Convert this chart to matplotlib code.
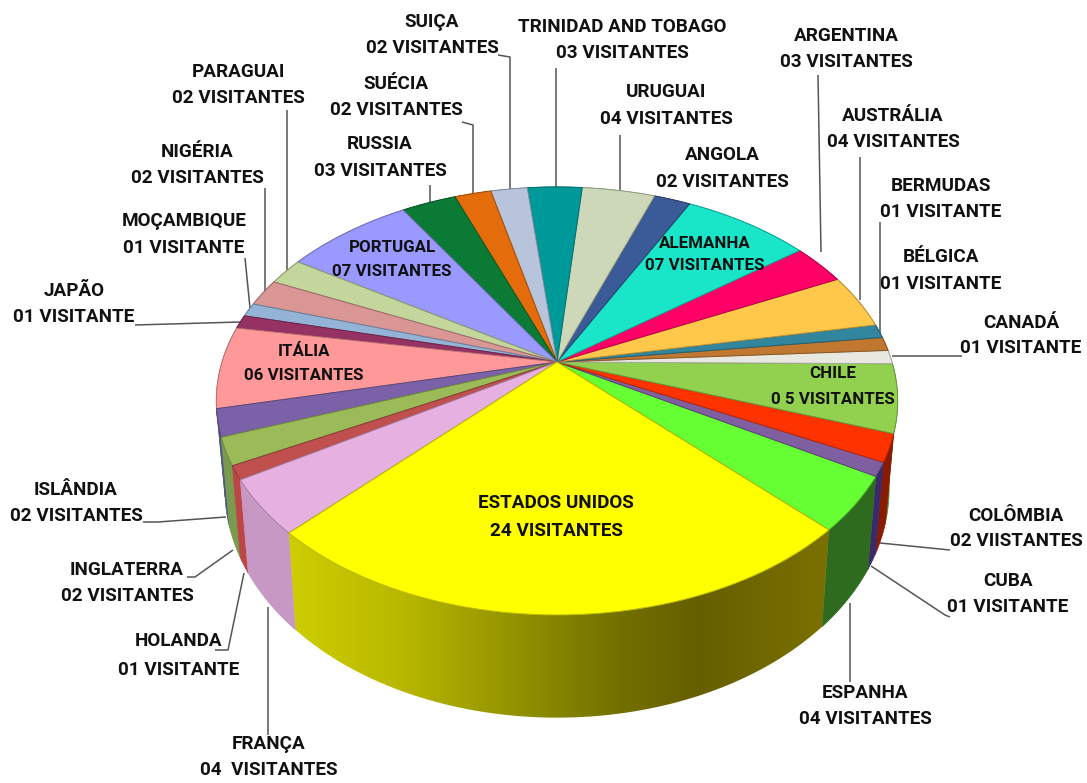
import numpy as np
import matplotlib
matplotlib.use("Agg")
import matplotlib.pyplot as plt
from matplotlib.colors import to_rgb, LinearSegmentedColormap

# ---- data (counter-clockwise from the right edge of ESTADOS UNIDOS) ----
countries = ["ESPANHA", "CUBA", "COLÔMBIA", "CHILE", "CANADÁ", "BÉLGICA", "BERMUDAS",
             "AUSTRÁLIA", "ARGENTINA", "ALEMANHA", "ANGOLA", "URUGUAI",
             "TRINIDAD AND TOBAGO", "SUIÇA", "SUÉCIA", "RUSSIA", "PORTUGAL", "PARAGUAI",
             "NIGÉRIA", "MOÇAMBIQUE", "JAPÃO", "ITÁLIA", "ISLÂNDIA", "INGLATERRA",
             "HOLANDA", "FRANÇA", "ESTADOS UNIDOS"]
visitors = [4, 1, 2, 5, 1, 1, 1, 4, 3, 7, 2, 4, 3, 2, 2, 3, 7, 2, 2, 1, 1, 6, 2, 2, 1, 4, 24]
value_labels = ["04 VISITANTES", "01 VISITANTE", "02 VIISTANTES", "0 5 VISITANTES", "01 VISITANTE",
                "01 VISITANTE", "01 VISITANTE", "04 VISITANTES", "03 VISITANTES", "07 VISITANTES",
                "02 VISITANTES", "04 VISITANTES", "03 VISITANTES", "02 VISITANTES", "02 VISITANTES",
                "03 VISITANTES", "07 VISITANTES", "02 VISITANTES", "02 VISITANTES", "01 VISITANTE",
                "01 VISITANTE", "06 VISITANTES", "02 VISITANTES", "02 VISITANTES", "01 VISITANTE",
                "04  VISITANTES", "24 VISITANTES"]
top_colors = ["#66FF33", "#7F5FA0", "#FF3300", "#92D050", "#E8E8E0", "#C07830", "#31859C",
              "#FFC84A", "#FF0066", "#19E5C8", "#3A5A98", "#CDD8B8", "#009999", "#B8C4DC",
              "#E46C0A", "#0B7A35", "#9999FF", "#C3D69B", "#D99694", "#95B3D7", "#953163",
              "#FF9999", "#7B62A8", "#9BBB59", "#C0504D", "#E6B0E0", "#FFFF00"]
wall_colors = ["#2F6B1F", "#3A2A6A", "#8A1A00", "#5A8030", "#A0A098", "#805020", "#205868",
               "#B08830", "#A00040", "#109080", "#253C66", "#8A9078", "#006666", "#7A8298",
               "#984808", "#085020", "#6666AA", "#828E68", "#916462", "#5F7890", "#631F42",
               "#AA6666", "#4A5A80", "#7A9A50", "#BC4545", "#C898C4", "#808000"]
yellow_wall_x = [280, 400, 500, 620, 700, 840]
yellow_wall_colors = ["#CFCF00", "#B8B800", "#979700", "#737000", "#665F00", "#7C7200"]

labels_xy = {
    "ESPANHA": (865, 693, 719), "CUBA": (1008, 581, 607), "COLÔMBIA": (1016, 516, 541),
    "CHILE": (833, 374, 399), "CANADÁ": (1021, 323, 348), "BÉLGICA": (941, 257, 284),
    "BERMUDAS": (941, 186, 212), "AUSTRÁLIA": (893, 116, 142), "ARGENTINA": (846, 36, 62),
    "ALEMANHA": (705, 244, 266), "ANGOLA": (722, 155, 182), "URUGUAI": (666, 92, 119),
    "TRINIDAD AND TOBAGO": (622, 27, 53), "SUIÇA": (432, 22, 48), "SUÉCIA": (396, 84, 110),
    "RUSSIA": (380, 144, 171), "PORTUGAL": (392, 248, 272), "PARAGUAI": (238, 72, 98),
    "NIGÉRIA": (197, 152, 178), "MOÇAMBIQUE": (184, 221, 248), "JAPÃO": (74, 291, 317),
    "ITÁLIA": (304, 352, 376), "ISLÂNDIA": (76, 490, 516), "INGLATERRA": (127, 570, 596),
    "HOLANDA": (179, 641, 670), "FRANÇA": (269, 744, 770), "ESTADOS UNIDOS": (556, 503, 531),
}
inner_labels = {"CHILE", "ALEMANHA", "PORTUGAL", "ITÁLIA"}

leaders = [
    [(498, 55), (510, 57), (510, 189)], [(556, 68), (556, 187)], [(818, 75), (821, 252)],
    [(620, 135), (620, 192)], [(860, 157), (860, 300)], [(880, 222), (880, 333)],
    [(892, 356), (962, 356)], [(880, 543), (950, 550)], [(871, 566), (945, 615), (950, 617)],
    [(850, 603), (850, 682)], [(268, 607), (268, 735)], [(244, 573), (228, 650), (215, 650)],
    [(233, 550), (195, 577), (187, 577)], [(226, 517), (158, 522), (143, 522)],
    [(240, 322), (135, 325)], [(250, 308), (245, 258)], [(265, 295), (265, 188)],
    [(287, 270), (287, 110)], [(430, 202), (430, 185)], [(473, 195), (473, 125), (462, 122)],
]

# ---- projection of the pie disc ----
CX, CY = 557, 362
SX, SY, K = 335, 206.9, 0.182
START_DEG = -45.0

def project(theta, r=1.0, fx=1.0, fy=1.0, off=0.0):
    X, Y = r * np.cos(theta), r * np.sin(theta)
    w = 1 + K * Y
    return CX + fx * SX * X / w, CY - fy * SY * Y / w + off

fig = plt.figure(figsize=(10.87, 7.83), dpi=100, facecolor="white")
ax = fig.add_axes([0, 0, 1, 1])
ax.set_xlim(0, 1087)
ax.set_ylim(783, 0)
ax.axis("off")

vals = np.array(visitors, float)
edges = np.radians(START_DEG + np.concatenate([[0], np.cumsum(vals)]) / vals.sum() * 360)

FX, FY, OFF = 0.975, 1.07, 85
x0, x1 = yellow_wall_x[0], yellow_wall_x[-1]
ycmap = LinearSegmentedColormap.from_list(
    "y", [((x - x0) / (x1 - x0), c) for x, c in zip(yellow_wall_x, yellow_wall_colors)])

# walls: back to front
order = sorted(range(len(vals)),
               key=lambda i: -abs(((edges[i] + edges[i + 1]) / 2 + np.pi / 2 + np.pi) % (2 * np.pi) - np.pi))
for i in order:
    t = np.linspace(edges[i], edges[i + 1], 90 if countries[i] == "ESTADOS UNIDOS" else 12)
    xt, yt = project(t)
    xb, yb = project(t, fx=FX, fy=FY, off=OFF)
    px, py = np.r_[xt, xb[::-1]], np.r_[yt, yb[::-1]]
    if countries[i] == "ESTADOS UNIDOS":
        poly = ax.fill(px, py, fc="none", ec="none", zorder=2)[0]
        img = ax.imshow(np.linspace(0, 1, 560)[None, :], cmap=ycmap, aspect="auto",
                        extent=(x0, x1, 783, 400), zorder=2, interpolation="bilinear")
        img.set_clip_path(poly)
    else:
        ax.fill(px, py, fc=wall_colors[i], ec=wall_colors[i], lw=0.5, zorder=2)
ax.set_xlim(0, 1087)
ax.set_ylim(783, 0)

# top surface
for i in range(len(vals)):
    t = np.linspace(edges[i], edges[i + 1], 60)
    x, y = project(t)
    ec = tuple(0.72 * c for c in to_rgb(top_colors[i]))
    ax.fill(np.r_[CX, x], np.r_[CY, y], fc=top_colors[i], ec=ec, lw=0.7, zorder=3, joinstyle="round")

# leaders
for pts in leaders:
    p = np.array(pts)
    ax.plot(p[:, 0], p[:, 1], color="#555555", lw=1.1, zorder=1, solid_capstyle="butt")

# labels
font = ["Roboto", "Liberation Sans", "DejaVu Sans"]
for name, val in zip(countries, value_labels):
    x, y1, y2 = labels_xy[name]
    fs = 12.2 if name in inner_labels else 13.6
    ax.text(x, y1, name, ha="center", va="center", family=font, weight="bold", fontsize=fs,
            color="#111111", zorder=5)
    ax.text(x, y2, val, ha="center", va="center", family=font, weight="bold", fontsize=fs,
            color="#111111", zorder=5)

fig.savefig("out.png", dpi=100)
